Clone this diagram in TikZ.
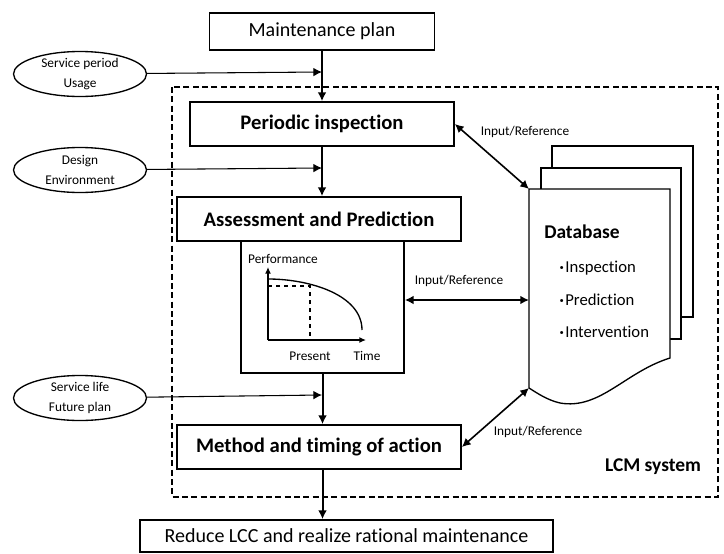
\documentclass[tikz,border=0pt]{standalone}
\usepackage{fontspec}
\setmainfont{Carlito}[Ligatures=NoCommon]
\usetikzlibrary{shapes.geometric,arrows.meta}

\begin{document}
\begin{tikzpicture}[x=0.75pt, y=-0.75pt, >={Latex[length=6.5pt,width=6.5pt]},
  box/.style={draw, line width=1.3pt, inner sep=0pt, font=\fontsize{15}{18}\selectfont},
  bbox/.style={box, font=\fontsize{15.5}{18}\selectfont\bfseries},
  oval/.style={draw, ellipse, line width=1pt, inner sep=0pt, align=center,
    minimum width=133*0.75pt, minimum height=45*0.75pt, font=\fontsize{10}{15}\selectfont},
  lbl/.style={font=\fontsize{10}{12}\selectfont},
  item/.style={anchor=west, font=\fontsize{12.5}{14}\selectfont},
  flow/.style={->, line width=1.5pt},
  feed/.style={->, line width=0.8pt},
  link/.style={<->, line width=1.2pt},
  page/.style={line width=1pt}]

  % Parameters
  \def\px{0.75pt}   % one pixel of the reference
  \def\dot{{\bfseries\fontsize{12}{13}\selectfont ·}\hspace{1pt}}

  \useasboundingbox (0,0) rectangle (724,553);

  % Main column
  \node[box, minimum width=225*\px, minimum height=37*\px] (plan) at (322,31.5) {Maintenance plan};
  \node[bbox, minimum width=264*\px, minimum height=44*\px] (insp) at (322,124) {Periodic inspection};
  \node[bbox, minimum width=284*\px, minimum height=44*\px] (assess) at (319,219) {Assessment and Prediction};
  \node[box, minimum width=163*\px, minimum height=132*\px] (graph) at (322.5,307) {};
  \node[bbox, minimum width=284*\px, minimum height=44*\px] (action) at (319,447) {Method and timing of action};
  \node[box, minimum width=413*\px, minimum height=32*\px] (goal) at (346.5,536) {Reduce LCC and realize rational maintenance};

  % Outside inputs
  \node[oval] (usage) at (80,74) {Service period\\Usage};
  \node[oval] (design) at (80,170) {Design\\Environment};
  \node[oval] (future) at (80,398) {Service life\\Future plan};

  \coordinate (j1) at (322,72);
  \coordinate (j2) at (322,168);
  \coordinate (j3) at (322,395);

  \draw[flow] (plan.south) -- (insp.north);
  \draw[flow] (insp.south) -- (assess.north -| insp.south);
  \draw[flow] (graph.south) -- (action.north -| graph.south);
  \draw[flow] (action.south -| graph.south) -- (goal.north -| graph.south);

  \draw[feed] (usage) -- (j1);
  \draw[feed] (design) -- (j2);
  \draw[feed] (future) -- (j3);

  % Performance curve
  \coordinate (origin) at (268,340);
  \draw[line width=1pt, -{Latex[length=5pt,width=4.5pt]}] (origin) -- (268,267);
  \draw[line width=1pt, -{Latex[length=5pt,width=4.5pt]}] (origin) -- (366,340);
  \draw[line width=1pt] (268,279) .. controls (310,279) and (362,295) .. (362,330);
  \draw[dashed, line width=0.8pt] (268,286) -| (310,340);
  \node[lbl] (perf) at (283,259) {Performance};
  \node[lbl] (present) at (310,356) {Present};
  \node[lbl] (time) at (367,356) {Time};

  % LCM system frame
  \draw[line width=1.2pt, dash pattern=on 4.5pt off 2.5pt] (172,87) rectangle (718,497);
  \node[font=\fontsize{14.6}{17}\selectfont\bfseries] (lcm) at (653,467) {LCM system};

  % Database (stack of pages)
  \coordinate (dbtl) at (529,189);
  \coordinate (dbml) at (529,300);
  \coordinate (dbbl) at (529,388);
  \draw[page] (552,168) |- (693,146) |- (681,317);
  \draw[page] (541,189) |- (681,168) |- (670,339);
  \draw[page, fill=white] (dbtl) -- (670,189) -- (670,358)
    .. controls (625,372) and (600,410) .. (560,403)
    .. controls (547,400) and (537,393) .. (dbbl) -- cycle;
  \node[font=\fontsize{14.6}{17}\selectfont\bfseries] (dbtitle) at (582,232) {Database};
  \node[item] (dbinsp) at (555,268) {\dot Inspection};
  \node[item] (dbpred) at (555,300) {\dot Prediction};
  \node[item] (dbint) at (555,332) {\dot Intervention};

  % Links to the database
  \draw[link] (insp.east) -- (dbtl);
  \draw[link] (graph.east |- dbml) -- (dbml);
  \draw[link] (action.east) -- (dbbl);
  \node[lbl] (ref1) at (525,132) {Input/Reference};
  \node[lbl] (ref2) at (459,281) {Input/Reference};
  \node[lbl] (ref3) at (538,432) {Input/Reference};

\end{tikzpicture}
\end{document}
